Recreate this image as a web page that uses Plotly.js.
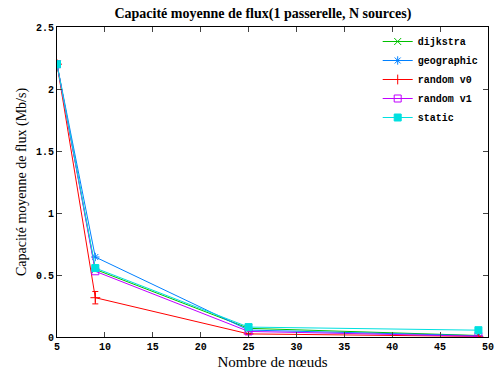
<!DOCTYPE html>
<html><head><meta charset="utf-8">
<script src="https://cdn.plot.ly/plotly-3.0.1.min.js"></script>
<style>body{margin:0;background:#fff}#c{width:496px;height:370px}</style>
</head><body><div id="c"></div>
<script>
const nodes = [5, 9, 25, 49];
const dijkstra = [2.2, 0.545, 0.07, 0.012];
const geographic = [2.2, 0.645, 0.056, 0.01];
const randomV0 = [2.2, 0.317, 0.025, 0.005];
const randomV0Err = [0, 0.05, 0.005, 0.002];
const randomV1 = [2.2, 0.53, 0.045, 0.006];
const staticS = [2.2, 0.556, 0.08, 0.055];
const xTicks = [5, 10, 15, 20, 25, 30, 35, 40, 45, 50];
const yTicks = [0, 0.5, 1, 1.5, 2, 2.5];

const mono = {family: 'Liberation Mono, DejaVu Sans Mono, monospace', size: 10, color: '#000', weight: 'bold'};
const serif = 'Liberation Serif, DejaVu Serif, serif';

function tr(name, y, color, symbol, extra) {
  return Object.assign({
    x: nodes, y: y, name: name, type: 'scatter', mode: 'lines+markers',
    line: {color: color, width: 1},
    marker: {symbol: symbol, color: color, size: 7, line: {color: color, width: 1}}
  }, extra || {});
}
const data = [
  tr('dijkstra', dijkstra, '#00c000', 'x-thin-open'),
  tr('geographic', geographic, '#0080ff', 'asterisk-open'),
  tr('random v0', randomV0, '#ff0000', 'cross-thin-open', {error_y: {type: 'data', array: randomV0Err, visible: true, color: '#ff0000', thickness: 1, width: 3}}),
  tr('random v1', randomV1, '#c000ff', 'square-open'),
  tr('static', staticS, '#00e0e0', 'square')
];
const layout = {
  width: 496, height: 370,
  margin: {l: 57, r: 8, t: 27, b: 33},
  paper_bgcolor: '#fff', plot_bgcolor: '#fff',
  title: {text: 'Capacité moyenne de flux(1 passerelle, N sources)', font: {family: serif, size: 14, color: '#000', weight: 'bold'}, x: 0.53, xanchor: 'center', y: 0.965, yanchor: 'middle'},
  xaxis: {range: [5, 50], tickvals: xTicks, ticktext: xTicks.map(String), ticks: 'inside', ticklen: 5, mirror: 'ticks', showline: true, linecolor: '#000', linewidth: 1, showgrid: false, zeroline: false, tickfont: mono,
    title: {text: 'Nombre de nœuds', font: {family: serif, size: 15, color: '#000'}, standoff: 4}},
  yaxis: {range: [0, 2.5], tickvals: yTicks, ticktext: yTicks.map(String), ticks: 'inside', ticklen: 5, mirror: 'ticks', showline: true, linecolor: '#000', linewidth: 1, showgrid: false, zeroline: false, tickfont: mono,
    title: {text: 'Capacité moyenne de flux (Mb/s)', font: {family: serif, size: 14, color: '#000'}, standoff: 6}},
  legend: {x: 0.99, xanchor: 'right', y: 1.0, yanchor: 'top', bgcolor: 'rgba(0,0,0,0)', font: mono, tracegroupgap: 0, itemwidth: 30},
  showlegend: true
};
Plotly.newPlot('c', data, layout, {displayModeBar: false, staticPlot: true});
</script></body></html>
